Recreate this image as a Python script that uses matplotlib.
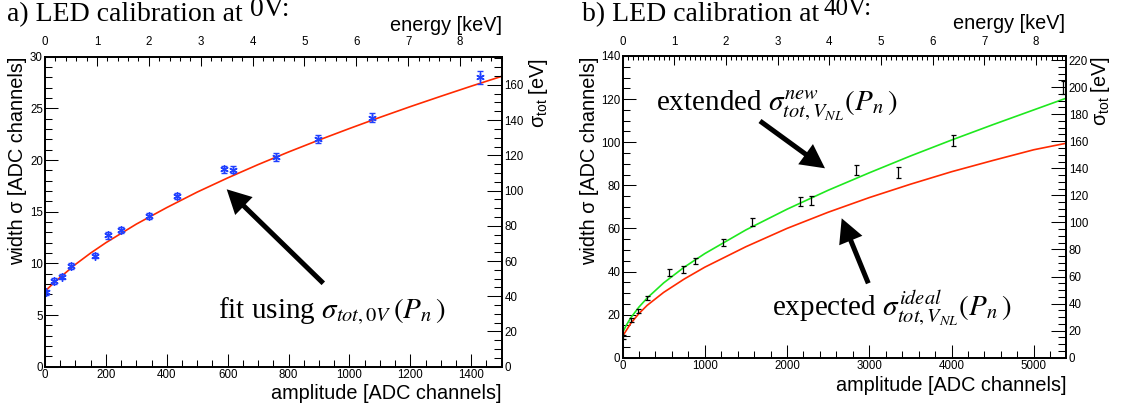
import matplotlib
matplotlib.use('Agg')
import matplotlib.pyplot as plt
from matplotlib.patches import FancyArrow
from matplotlib.ticker import MultipleLocator

W, H = 1122, 412

# ---------------- panel a data (0 V) ----------------
amp_a = [3, 30, 55, 85, 163, 208, 250, 340, 433, 589, 619, 758, 896, 1075, 1430]
width_a = [7.2, 8.3, 8.7, 9.75, 10.75, 12.7, 13.2, 14.58, 16.5, 19.1, 19.05, 20.3, 22.05, 24.1, 28.0]
err_a = [0.25, 0.25, 0.25, 0.25, 0.25, 0.3, 0.3, 0.3, 0.3, 0.35, 0.35, 0.4, 0.4, 0.45, 0.6]
fit_amp_a = [0, 25, 50, 100, 150, 200, 300, 400, 500, 600, 700, 800, 900, 1000, 1100, 1200, 1300, 1400, 1500]
fit_width_a = [7.3, 8.0, 8.65, 9.9, 11.0, 12.0, 13.8, 15.4, 16.9, 18.27, 19.56, 20.78, 21.94, 23.05,
               24.13, 25.17, 26.17, 27.15, 28.1]

# ---------------- panel b data (40 V) ----------------
amp_b = [10, 100, 192, 300, 569, 733, 881, 1221, 1569, 2161, 2289, 2833, 3349, 4015, 5350]
width_b = [9.7, 17.4, 21.7, 27.9, 39.5, 40.9, 44.8, 53.6, 63.1, 72.5, 72.8, 87.1, 85.9, 100.8, 125.4]
err_b = [0.8, 0.8, 0.9, 0.9, 1.5, 1.5, 1.4, 1.7, 1.8, 2.1, 2.1, 2.5, 2.6, 2.7, 3.0]
curve_amp_b = [0, 10, 25, 50, 100, 200, 300, 500, 750, 1000, 1500, 2000, 2500, 3000, 3500, 4000,
               4500, 5000, 5391]
new_b = [11.4, 12.3, 13.5, 15.3, 18.5, 23.5, 27.7, 34.7, 42.0, 48.3, 59.3, 68.9, 77.7, 85.8, 93.6,
         101.0, 108.1, 115.0, 120.4]
ideal_b = [9.5, 10.3, 11.4, 12.9, 15.9, 20.5, 24.3, 30.3, 36.5, 42.0, 51.5, 60.0, 67.5, 74.3, 80.5,
           86.3, 91.5, 96.5, 99.5]

plt.rcParams['mathtext.fontset'] = 'stix'
SANS = 'Liberation Sans'
SERIF = 'Liberation Serif'

fig = plt.figure(figsize=(W / 100, H / 100), dpi=100)
fig.patch.set_facecolor('white')


def rect(l, t, r, b):
    return [l / W, 1 - b / H, (r - l) / W, (b - t) / H]


def make_panel(box, xmax, ymax, xmaj, xmin, ymaj, ymin, emax, emin_step, evmax):
    ax = fig.add_axes(rect(*box))
    ax.set_xlim(0, xmax)
    ax.set_ylim(0, ymax)
    ax.xaxis.set_major_locator(MultipleLocator(xmaj))
    ax.xaxis.set_minor_locator(MultipleLocator(xmin))
    ax.yaxis.set_major_locator(MultipleLocator(ymaj))
    ax.yaxis.set_minor_locator(MultipleLocator(ymin))
    ax.tick_params(which='both', direction='in', top=False, right=False, width=0.75,
                   labelsize=8.3, colors='black')
    ax.tick_params(which='major', length=9.4)
    ax.tick_params(which='minor', length=5)
    ax.tick_params(axis='x', pad=1.5)
    ax.tick_params(axis='y', pad=1.5)
    for s in ax.spines.values():
        s.set_linewidth(1.1)
    for lab in ax.get_xticklabels() + ax.get_yticklabels():
        lab.set_family(SANS)

    at = ax.twiny()
    at.set_xlim(0, emax)
    at.xaxis.set_major_locator(MultipleLocator(1))
    at.xaxis.set_minor_locator(MultipleLocator(emin_step))
    at.tick_params(axis='x', which='both', direction='in', width=0.75, labelsize=8.3, pad=6.0)
    at.tick_params(axis='x', which='major', length=6.5)
    at.tick_params(axis='x', which='minor', length=3.2)

    ar = ax.twinx()
    ar.set_ylim(0, evmax)
    ar.yaxis.set_major_locator(MultipleLocator(20))
    ar.yaxis.set_minor_locator(MultipleLocator(5))
    ar.tick_params(axis='y', which='both', direction='in', width=0.75, labelsize=8.3, pad=2)
    ar.tick_params(axis='y', which='major', length=10.8)
    ar.tick_params(axis='y', which='minor', length=5.8)
    for a in (at, ar):
        for s in a.spines.values():
            s.set_linewidth(1.1)
        for lab in a.get_xticklabels() + a.get_yticklabels():
            lab.set_family(SANS)
    return ax


# ---------------- panel a ----------------
axa = make_panel((45, 56.7, 501.7, 366.7), 1500, 30, 200, 50, 5, 1, 8.8, 0.2, 176)
axa.plot(fit_amp_a, fit_width_a, color='#ff2a00', lw=1.2, zorder=2)
axa.errorbar(amp_a, width_a, yerr=err_a, fmt='none', ecolor='#2040ff', elinewidth=1.0,
             capsize=2.4, capthick=1.0, zorder=3)
axa.plot(amp_a, width_a, ls='none', marker=(6, 2, 0), ms=6, mec='#2040ff', mew=1.0, zorder=4)

# ---------------- panel b ----------------
axb = make_panel((622.5, 56, 1066, 357.7), 5391, 140, 1000, 200, 20, 5, 8.58, 0.1, 223)
axb.plot(curve_amp_b, ideal_b, color='#ff2a00', lw=1.2, zorder=2)
axb.plot(curve_amp_b, new_b, color='#1ee81e', lw=1.2, zorder=2)
axb.errorbar(amp_b, width_b, yerr=err_b, fmt='none', ecolor='black', elinewidth=0.9,
             capsize=1.8, capthick=0.9, zorder=3)


# ---------------- texts ----------------
def ftext(x, y, s, **kw):
    return fig.text(x / W, 1 - y / H, s, **kw)


# titles
ftext(6.7, 21, "a) LED calibration at", fontsize=20, family=SERIF, va='baseline')
ftext(250, 16, "0V:", fontsize=20, family=SERIF, va='baseline')
ftext(581.7, 21, "b) LED calibration at", fontsize=20, family=SERIF, va='baseline')
ftext(823, 15, "40V:", fontsize=18, family=SERIF, va='baseline')

# axis titles
ftext(501.7, 31, "energy [keV]", fontsize=14.3, family=SANS, ha='right', va='baseline')
ftext(1065, 29, "energy [keV]", fontsize=14.3, family=SANS, ha='right', va='baseline')
ftext(501.7, 399, "amplitude [ADC channels]", fontsize=14.3, family=SANS, ha='right', va='baseline')
ftext(1066, 391, "amplitude [ADC channels]", fontsize=14.3, family=SANS, ha='right', va='baseline')
ftext(18, 57, "width σ [ADC channels]", fontsize=14.3, family=SANS, rotation=90,
      ha='center', va='top')
ftext(590, 57, "width σ [ADC channels]", fontsize=14.3, family=SANS, rotation=90,
      ha='center', va='top')
ftext(538, 58, r"$\mathregular{\sigma_{tot}}$ [eV]", fontsize=14.3, family=SANS, rotation=90,
      ha='center', va='top')
ftext(1101, 56, r"$\mathregular{\sigma_{tot}}$ [eV]", fontsize=14.3, family=SANS, rotation=90,
      ha='center', va='top')

# annotations
ftext(218, 318, r"fit using $\sigma_{tot,0V}\,(P_n\,)$", fontsize=21, family=SERIF, va='baseline')
ftext(656, 110, r"extended $\sigma^{new}_{tot,V_{NL}}(P_n\,)$", fontsize=21, family=SERIF,
      va='baseline')
ftext(772, 315, r"expected $\sigma^{ideal}_{tot,V_{NL}}(P_n\,)$", fontsize=21, family=SERIF,
      va='baseline')


def arrow(tail, tip):
    x0, y0 = tail[0] / 100, (H - tail[1]) / 100
    x1, y1 = tip[0] / 100, (H - tip[1]) / 100
    a = FancyArrow(x0, y0, x1 - x0, y1 - y0, width=0.05, head_width=0.25, head_length=0.24,
                   length_includes_head=True, transform=fig.dpi_scale_trans, color='black', lw=0)
    fig.add_artist(a)


arrow((323.3, 283.3), (226.7, 189.3))
arrow((760, 121), (825, 168.3))
arrow((868.3, 283.3), (841.7, 218.3))

fig.savefig('out.png', dpi=100, facecolor='white')
